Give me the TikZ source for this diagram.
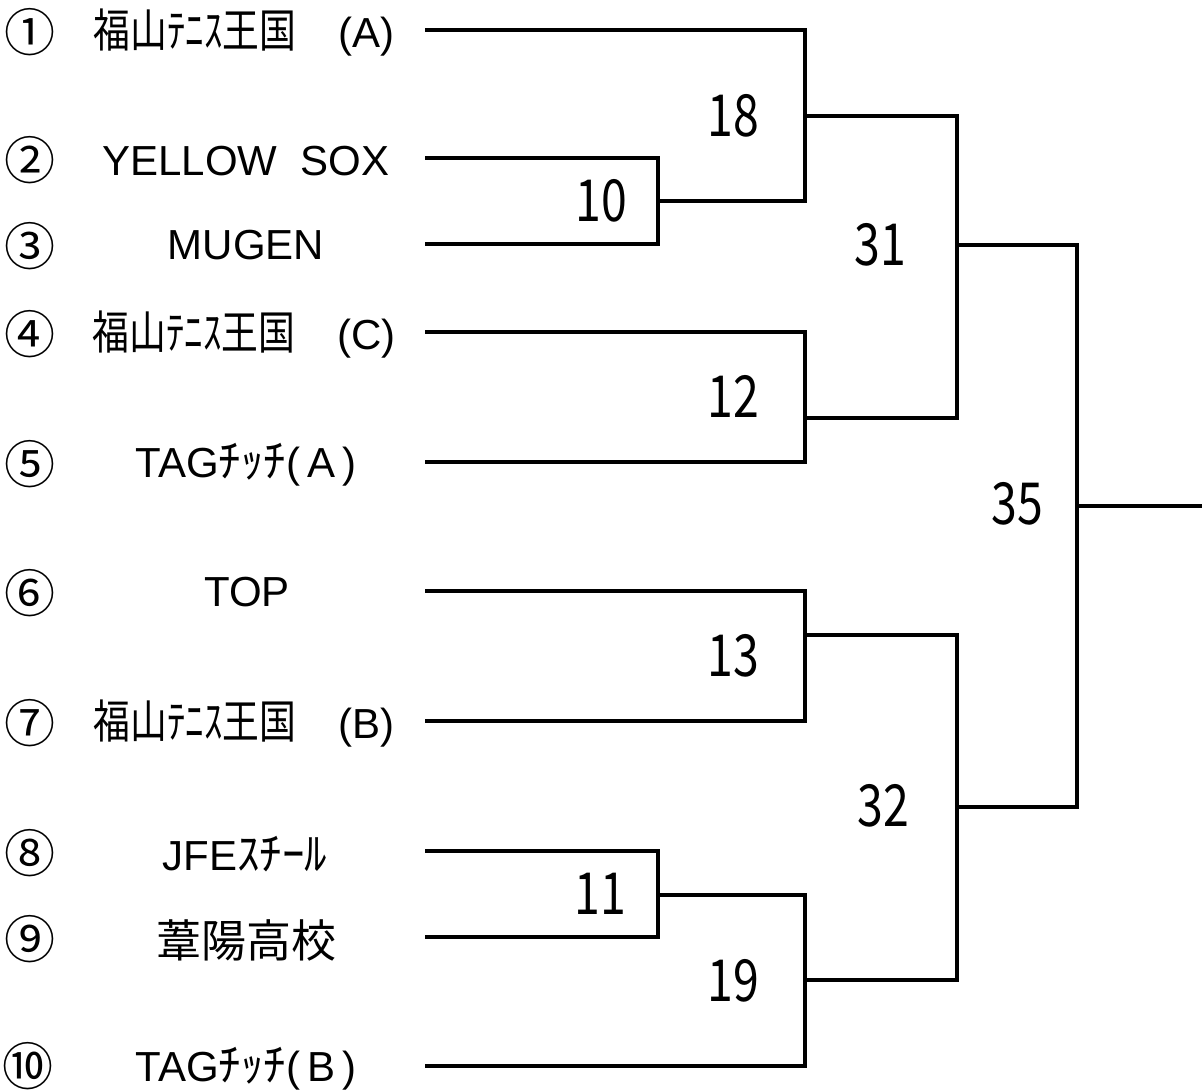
\documentclass[tikz,border=0pt]{standalone}
\usepackage{fontspec}
\setmainfont{Liberation Sans}
\newfontfamily\jpfont{Noto Sans CJK JP}
\newfontfamily\jpnarrow[FakeStretch=0.8]{Noto Sans CJK JP}
\newfontfamily\digitfont[FakeStretch=0.8]{Noto Sans CJK JP}
\usetikzlibrary{calc}
\usetikzlibrary{positioning}
\newcommand{\seedfont}{\jpfont\fontsize{51}{51}\selectfont}
\newcommand{\teamfont}{\fontsize{42}{42}\selectfont}
\newcommand{\scorefont}{\digitfont\fontsize{58}{58}\selectfont}
\newcommand{\jp}[1]{{\jpfont\fontsize{45}{45}\selectfont #1}}
\newcommand{\jpn}[1]{{\jpnarrow\fontsize{46}{46}\selectfont #1}}
\tikzstyle{seednode} = [font=\seedfont, inner sep=0pt]
\tikzstyle{teamnode} = [font=\teamfont, inner sep=0pt]
\tikzstyle{scorenode} = [font=\scorefont, inner sep=0pt]
\tikzstyle{bracket} = [line width=3.2pt, line join=miter]

\begin{document}
\begin{tikzpicture}[x=1pt, y=-1pt]
    \useasboundingbox (0,0) rectangle (1202,1091);
    % line starts of the ten teams
    \coordinate (t1) at (425,30);
    \coordinate (t2) at (425,158);
    \coordinate (t3) at (425,244);
    \coordinate (t4) at (425,332);
    \coordinate (t5) at (425,462);
    \coordinate (t6) at (425,591);
    \coordinate (t7) at (425,721);
    \coordinate (t8) at (425,851);
    \coordinate (t9) at (425,937);
    \coordinate (t10) at (425,1066);
    % seeds and team names
    \node[seednode] (s1) at ($(t1)+(-395,2)$) {①};
    \node[seednode] (s2) at ($(t2)+(-395,2)$) {②};
    \node[seednode] (s3) at ($(t3)+(-395,2)$) {③};
    \node[seednode] (s4) at ($(t4)+(-395,2)$) {④};
    \node[seednode] (s5) at ($(t5)+(-395,2)$) {⑤};
    \node[seednode] (s6) at ($(t6)+(-395,2)$) {⑥};
    \node[seednode] (s7) at ($(t7)+(-395,2)$) {⑦};
    \node[seednode] (s8) at ($(t8)+(-395,2)$) {⑧};
    \node[seednode] (s9) at ($(t9)+(-395,2)$) {⑨};
    \node[seednode] (s10) at ($(t10)+(-397,0)$) {⑩};
    \node[teamnode] (n1) at ($(t1)+(-181,3)$) {\jpn{福山ﾃﾆｽ王国}\hspace{1em}(A)};
    \node[teamnode] (n2) at ($(t2)+(-179,3)$) {YELLOW\ \ SOX};
    \node[teamnode] (n3) at ($(t3)+(-179,1)$) {MUGEN};
    \node[teamnode] (n4) at ($(t4)+(-181,3)$) {\jpn{福山ﾃﾆｽ王国}\hspace{1em}(C)};
    \node[teamnode] (n5) at ($(t5)+(-179,3)$) {TAG\jp{ﾁｯﾁ}(\,A\,)};
    \node[teamnode] (n6) at ($(t6)+(-178,1)$) {TOP};
    \node[teamnode] (n7) at ($(t7)+(-181,3)$) {\jpn{福山ﾃﾆｽ王国}\hspace{1em}(B)};
    \node[teamnode] (n8) at ($(t8)+(-180,3)$) {JFE\jp{ｽﾁｰﾙ}};
    \node[teamnode] (n9) at ($(t9)+(-179,3)$) {\jp{葦陽高校}};
    \node[teamnode] (n10) at ($(t10)+(-179,3)$) {TAG\jp{ﾁｯﾁ}(\,B\,)};
    % match points
    \coordinate (m10) at (658,201);
    \coordinate (m18) at (805,116);
    \coordinate (m12) at (805,418);
    \coordinate (m31) at (957,245);
    \coordinate (m13) at (805,635);
    \coordinate (m11) at (658,895);
    \coordinate (m19) at (805,980);
    \coordinate (m32) at (957,807);
    \coordinate (m35) at (1077,506);
    \coordinate (win) at (1202,506);
    \node[scorenode] (g10) at ($(m10)+(-57,0)$) {10};
    \node[scorenode] (g18) at ($(m18)+(-72,0)$) {18};
    \node[scorenode] (g12) at ($(m12)+(-72,-22)$) {12};
    \node[scorenode] (g31) at ($(m31)+(-77,0)$) {31};
    \node[scorenode] (g13) at ($(m13)+(-72,21)$) {13};
    \node[scorenode] (g11) at ($(m11)+(-58,-1)$) {11};
    \node[scorenode] (g19) at ($(m19)+(-72,1)$) {19};
    \node[scorenode] (g32) at ($(m32)+(-74,-1)$) {32};
    \node[scorenode] (g35) at ($(m35)+(-60,-2)$) {35};
    % first round
    \draw[bracket] (t2) -| (m10) |- (t3);
    \draw[bracket] (t4) -| (m12) |- (t5);
    \draw[bracket] (t6) -| (m13) |- (t7);
    \draw[bracket] (t8) -| (m11) |- (t9);
    % second round
    \draw[bracket] (t1) -| (m18) |- (m10);
    \draw[bracket] (m11) -| (m19) |- (t10);
    % semi finals
    \draw[bracket] (m18) -| (m31) |- (m12);
    \draw[bracket] (m13) -| (m32) |- (m19);
    % final
    \draw[bracket] (m31) -| (m35) |- (m32);
    \draw[bracket] (m35) -- (win);
\end{tikzpicture}
\end{document}
